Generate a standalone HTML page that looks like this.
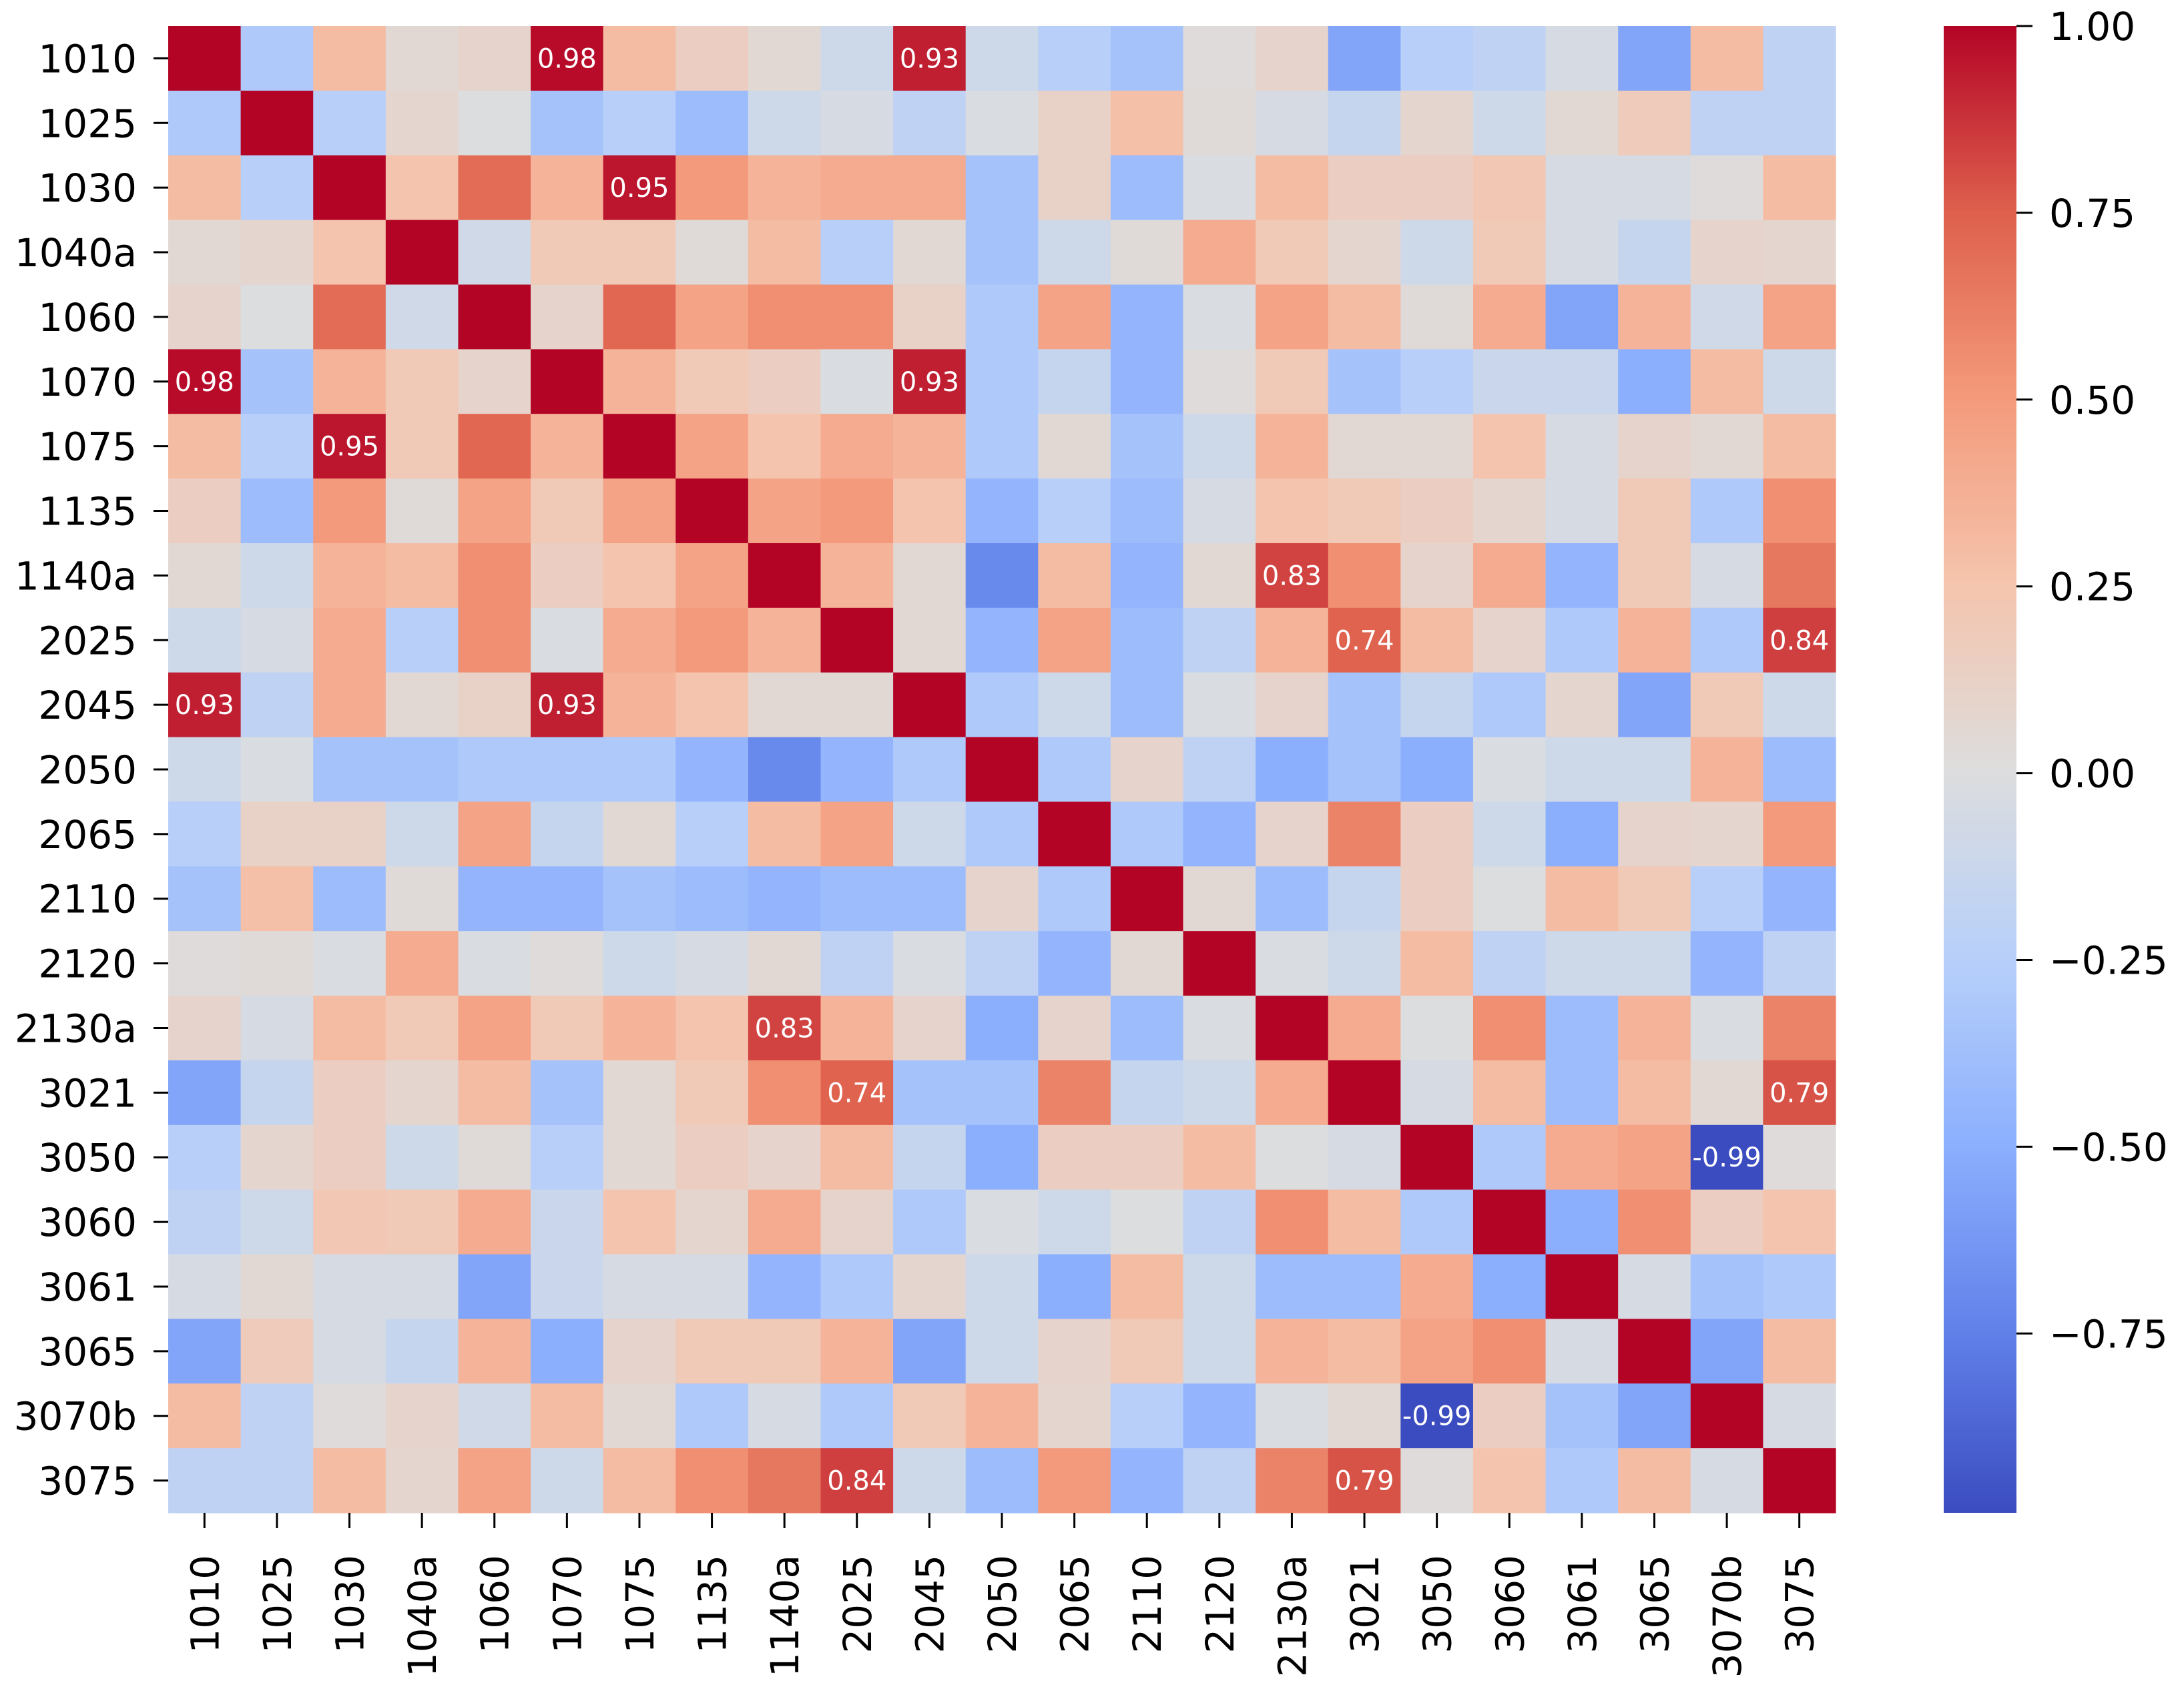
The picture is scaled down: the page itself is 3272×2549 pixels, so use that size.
<!DOCTYPE html>
<html><head><meta charset="utf-8"><style>
html,body{margin:0;padding:0;background:#fff;}
svg{display:block;font-family:"DejaVu Sans","Liberation Sans",sans-serif;}
</style></head><body>
<svg id="chart" width="3272" height="2549" viewBox="0 0 3272 2549" xmlns="http://www.w3.org/2000/svg">
<defs><linearGradient id="cbgrad" x1="0" y1="1" x2="0" y2="0"></linearGradient></defs>
<g id="cells"></g>
<g id="annots"></g>
<g id="yaxis"></g>
<g id="xaxis"></g>
<g id="cbar"></g>
</svg>
<script>
const labels = ["1010","1025","1030","1040a","1060","1070","1075","1135","1140a","2025","2045","2050","2065","2110","2120","2130a","3021","3050","3060","3061","3065","3070b","3075"];
// upper triangle rows (starting at diagonal)
const upper = [
[1,-0.3,0.3,0.05,0.1,0.98,0.3,0.15,0.05,-0.1,0.93,-0.1,-0.25,-0.35,0.02,0.1,-0.55,-0.25,-0.2,-0.05,-0.55,0.3,-0.2],
[1,-0.25,0.08,0,-0.35,-0.25,-0.4,-0.1,-0.05,-0.2,-0.02,0.12,0.28,0.03,-0.05,-0.15,0.08,-0.1,0.05,0.18,-0.2,-0.2],
[1,0.25,0.7,0.35,0.95,0.5,0.35,0.4,0.4,-0.35,0.12,-0.4,-0.02,0.3,0.15,0.15,0.22,-0.05,-0.05,0.02,0.3],
[1,-0.08,0.2,0.2,0.03,0.3,-0.25,0.05,-0.35,-0.1,0.03,0.4,0.2,0.08,-0.1,0.2,-0.05,-0.15,0.1,0.08],
[1,0.1,0.72,0.45,0.55,0.55,0.12,-0.3,0.45,-0.45,-0.02,0.45,0.3,0.03,0.4,-0.55,0.35,-0.08,0.45],
[1,0.35,0.2,0.15,-0.02,0.93,-0.3,-0.15,-0.45,0.02,0.2,-0.35,-0.25,-0.12,-0.12,-0.5,0.3,-0.1],
[1,0.45,0.25,0.4,0.35,-0.3,0.05,-0.35,-0.1,0.35,0.05,0.05,0.25,-0.05,0.1,0.05,0.3],
[1,0.45,0.5,0.25,-0.45,-0.25,-0.4,-0.05,0.25,0.2,0.15,0.08,-0.05,0.2,-0.3,0.55],
[1,0.35,0.05,-0.7,0.3,-0.45,0.05,0.83,0.55,0.1,0.4,-0.45,0.2,-0.05,0.65],
[1,0.05,-0.45,0.45,-0.4,-0.2,0.35,0.74,0.3,0.1,-0.3,0.35,-0.3,0.84],
[1,-0.3,-0.1,-0.4,-0.02,0.1,-0.35,-0.15,-0.3,0.08,-0.55,0.2,-0.1],
[1,-0.3,0.1,-0.2,-0.5,-0.35,-0.5,-0.02,-0.1,-0.1,0.35,-0.4],
[1,-0.3,-0.45,0.1,0.6,0.15,-0.1,-0.5,0.1,0.08,0.5],
[1,0.05,-0.4,-0.15,0.15,0.0,0.3,0.2,-0.25,-0.45],
[1,-0.02,-0.1,0.3,-0.2,-0.1,-0.1,-0.45,-0.2],
[1,0.4,0.0,0.55,-0.4,0.35,-0.02,0.6],
[1,-0.05,0.3,-0.4,0.3,0.05,0.79],
[1,-0.3,0.4,0.45,-0.99,0.02],
[1,-0.5,0.55,0.15,0.25],
[1,-0.05,-0.35,-0.3],
[1,-0.55,0.3],
[1,-0.05],
[1]
];
const cbTicks = [1.00,0.75,0.50,0.25,0.00,-0.25,-0.50,-0.75];
const VMIN = -0.99, VMAX = 1.0, ANNOT_MIN = 0.73;

const NS="http://www.w3.org/2000/svg";
const L=252, T=39, R=2750, B=2267;
const n=labels.length, cw=(R-L)/n, ch=(B-T)/n;
const M=[];
for(let i=0;i<n;i++){M.push(new Array(n));}
for(let i=0;i<n;i++)for(let k=0;k<upper[i].length;k++){const j=i+k;M[i][j]=upper[i][k];M[j][i]=upper[i][k];}
const cstops=[[59,76,192],[98,130,234],[141,176,254],[184,208,249],[221,221,221],[245,196,173],[244,154,123],[222,96,77],[180,4,38]];
function cmap(v){let t=(v-VMIN)/(VMAX-VMIN);t=Math.max(0,Math.min(1,t));const p=t*8,i=Math.min(7,Math.floor(p)),f=p-i;const a=cstops[i],b=cstops[i+1];return `rgb(${Math.round(a[0]+(b[0]-a[0])*f)},${Math.round(a[1]+(b[1]-a[1])*f)},${Math.round(a[2]+(b[2]-a[2])*f)})`;}
const xs=j=>L+j*cw, ys=i=>T+i*ch;
function mk(tag,attrs,parent){const e=document.createElementNS(NS,tag);for(const k in attrs)e.setAttribute(k,attrs[k]);parent.appendChild(e);return e;}
const cells=document.getElementById('cells'),annots=document.getElementById('annots');
for(let i=0;i<n;i++)for(let j=0;j<n;j++){
  const r=mk('rect',{x:xs(j),y:ys(i),width:cw+0.6,height:ch+0.6,fill:cmap(M[i][j])},cells);
  
  
  if(i!==j && Math.abs(M[i][j])>ANNOT_MIN){
    const t=mk('text',{x:xs(j)+cw/2,y:ys(i)+ch/2+14,'text-anchor':'middle','font-size':40,fill:'#fff'},annots);
    t.textContent=M[i][j].toFixed(2);
    
    
  }
}
const ya=document.getElementById('yaxis'),xa=document.getElementById('xaxis');
for(let i=0;i<n;i++){
  const cy=ys(i)+ch/2;
  mk('line',{x1:L-22,x2:L,y1:cy,y2:cy,stroke:'#000','stroke-width':3},ya);
  const t=mk('text',{x:205,y:cy+21,'text-anchor':'end','font-size':58,fill:'#000'},ya);
  t.textContent=labels[i];
  
  
}
for(let j=0;j<n;j++){
  const cx=xs(j)+cw/2;
  mk('line',{x1:cx,x2:cx,y1:B,y2:B+23,stroke:'#000','stroke-width':3},xa);
  const t=mk('text',{x:0,y:0,'text-anchor':'end','font-size':58,fill:'#000',transform:`translate(${cx+21},2330) rotate(-90)`},xa);
  t.textContent=labels[j];
  
  
}
// colorbar
const g=document.getElementById('cbgrad');
for(let k=0;k<=8;k++){mk('stop',{offset:(k/8),'stop-color':`rgb(${cstops[k].join(',')})`},g);}
const cb=document.getElementById('cbar');
const CL=2912,CR=3021;
const cbr=mk('rect',{x:CL,y:T,width:CR-CL,height:B-T,fill:'url(#cbgrad)'},cb);


const cy=v=>T+(VMAX-v)/(VMAX-VMIN)*(B-T);
cbTicks.forEach(v=>{
  const y=cy(v);
  mk('line',{x1:CR,x2:CR+24,y1:y,y2:y,stroke:'#000','stroke-width':3},cb);
  const t=mk('text',{x:3070,y:y+21,'font-size':58,fill:'#000'},cb);
  t.textContent=v.toFixed(2).replace('-','\u2212');
  
  
});
</script>
</body></html>
